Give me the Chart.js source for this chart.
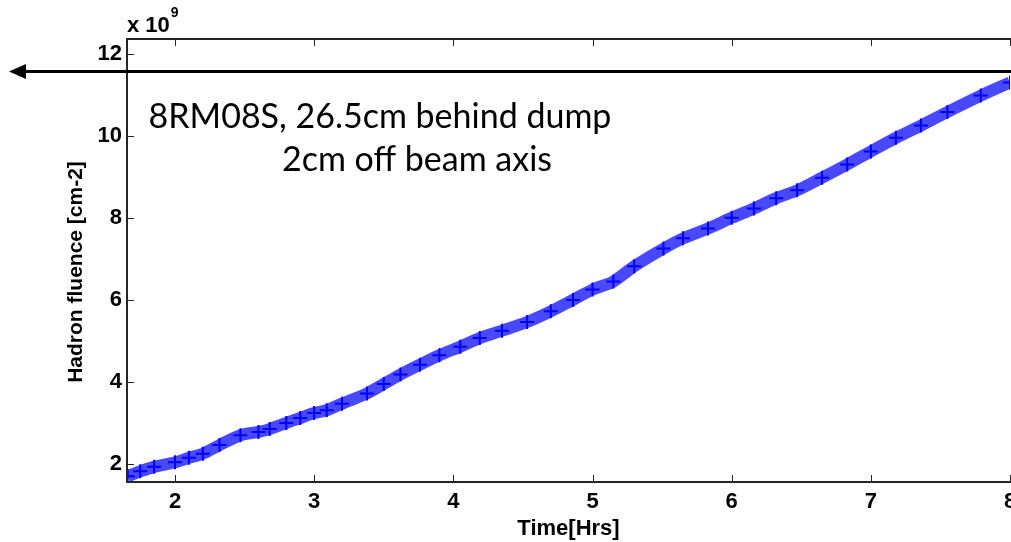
<!DOCTYPE html>
<html>
<head>
<meta charset="utf-8">
<script src="https://cdn.jsdelivr.net/npm/chart.js@4"></script>
<style>
  html, body { margin: 0; padding: 0; background: #fff; }
  #wrap { width: 1011px; height: 542px; position: relative; }
</style>
</head>
<body>
<div id="wrap"><canvas id="fluenceCanvas"></canvas></div>
<script>
// Values (fluence in units of 1e9 cm-2)
const timeHrs = [
  1.66, 1.75, 1.85, 2.00, 2.10, 2.20, 2.32, 2.47, 2.60, 2.68,
  2.80, 2.90, 3.00, 3.09, 3.20, 3.38, 3.50, 3.62, 3.76, 3.90,
  4.05, 4.19, 4.35, 4.53, 4.70, 4.86, 5.00, 5.15, 5.30, 5.51,
  5.65, 5.83, 6.00, 6.16, 6.32, 6.47, 6.65, 6.83, 7.00, 7.18,
  7.36, 7.55, 7.79, 8.00
];
const fluence = [
  1.70, 1.82, 1.93, 2.04, 2.15, 2.25, 2.46, 2.70, 2.78, 2.85,
  3.00, 3.12, 3.24, 3.31, 3.47, 3.72, 3.95, 4.18, 4.42, 4.65,
  4.86, 5.07, 5.25, 5.46, 5.72, 6.00, 6.25, 6.45, 6.82, 7.25,
  7.50, 7.74, 8.00, 8.23, 8.48, 8.67, 8.98, 9.30, 9.62, 9.95,
  10.25, 10.58, 10.98, 11.30
];
const xTicks = [2, 3, 4, 5, 6, 7, 8];
const yTicks = [2, 4, 6, 8, 10, 12];
const yExponent = '9';
const noteLines = ['8RM08S, 26.5cm behind dump', '2cm off beam axis'];

const axisFont = { family: "'Liberation Sans', Arial, sans-serif", size: 22, weight: 'bold' };

// box, inside tick marks, arrow and text note (MATLAB look)
const decorPlugin = {
  id: 'decor',
  afterDraw(chart) {
    const ctx = chart.ctx;
    const a = chart.chartArea;
    const xs = chart.scales.x, ys = chart.scales.y;
    ctx.save();

    // box
    ctx.strokeStyle = '#262626';
    ctx.lineWidth = 2;
    ctx.beginPath();
    ctx.moveTo(a.right + 5, a.top);
    ctx.lineTo(a.left, a.top);
    ctx.lineTo(a.left, a.bottom);
    ctx.lineTo(a.right + 5, a.bottom);
    ctx.stroke();

    // inside ticks
    ctx.lineWidth = 1;
    ctx.beginPath();
    xTicks.forEach(v => {
      const px = Math.round(xs.getPixelForValue(v)) + 0.5;
      ctx.moveTo(px, a.bottom); ctx.lineTo(px, a.bottom - 7);
      ctx.moveTo(px, a.top); ctx.lineTo(px, a.top + 7);
    });
    yTicks.forEach(v => {
      const py = Math.round(ys.getPixelForValue(v)) + 0.5;
      ctx.moveTo(a.left, py); ctx.lineTo(a.left + 7, py);
    });
    ctx.stroke();

    // exponent label
    ctx.fillStyle = '#000';
    ctx.font = 'bold 22px "Liberation Sans", Arial, sans-serif';
    ctx.textAlign = 'left';
    ctx.textBaseline = 'alphabetic';
    ctx.fillText('x 10', a.left, 32);
    const w = ctx.measureText('x 10').width;
    ctx.font = 'bold 14px "Liberation Sans", Arial, sans-serif';
    ctx.fillText(yExponent, a.left + w + 1, 17);

    // y title
    ctx.save();
    ctx.translate(82, 272);
    ctx.rotate(-Math.PI / 2);
    ctx.textAlign = 'center';
    ctx.font = 'bold 21px "Liberation Sans", Arial, sans-serif';
    ctx.fillText('Hadron fluence [cm-2]', 0, 0);
    ctx.restore();

    // arrow
    ctx.strokeStyle = '#000';
    ctx.lineWidth = 3;
    ctx.beginPath();
    ctx.moveTo(20, 71.5);
    ctx.lineTo(chart.width, 71.5);
    ctx.stroke();
    ctx.beginPath();
    ctx.moveTo(9, 71.5);
    ctx.lineTo(26, 64);
    ctx.lineTo(26, 79);
    ctx.closePath();
    ctx.fill();

    // note text
    ctx.font = '34px Lato, "Open Sans", sans-serif';
    ctx.textAlign = 'center';
    ctx.fillText(noteLines[0], 380, 128);
    ctx.fillText(noteLines[1], 417, 171);

    ctx.restore();
  }
};

const ctx = document.getElementById('fluenceCanvas').getContext('2d');
const fluenceChart = new Chart(ctx, {
  type: 'line',
  data: {
    datasets: [{
      data: timeHrs.map((t, i) => ({ x: t, y: fluence[i] })),
      borderColor: 'rgba(40, 40, 255, 0.85)',
      borderWidth: 12,
      tension: 0.3,
      pointStyle: 'cross',
      pointRadius: 7,
      pointBorderWidth: 2,
      pointBorderColor: '#0000ff',
      pointBackgroundColor: '#0000ff',
      fill: false
    }]
  },
  options: {
    responsive: true,
    maintainAspectRatio: false,
    animation: false,
    layout: { autoPadding: false, padding: { top: 39, right: 1, left: 0, bottom: 0 } },
    plugins: {
      legend: { display: false },
      tooltip: { enabled: false }
    },
    scales: {
      x: {
        type: 'linear',
        min: 1.655,
        max: 8,
        grid: { display: false, drawTicks: false },
        border: { display: false },
        ticks: {
          stepSize: 1,
          includeBounds: false,
          autoSkip: false,
          maxRotation: 0,
          padding: 7,
          color: '#000',
          font: axisFont
        },
        title: {
          display: true,
          text: 'Time[Hrs]',
          color: '#000',
          font: axisFont,
          padding: { top: 0, bottom: 0 }
        },
        afterFit(scale) {
          scale.height = 60;
          scale.paddingLeft = 0;
          scale.paddingRight = 0;
        }
      },
      y: {
        min: 1.56,
        max: 12.36,
        grid: { display: false, drawTicks: false },
        border: { display: false },
        ticks: {
          stepSize: 2,
          includeBounds: false,
          padding: 5,
          color: '#000',
          font: axisFont
        },
        afterFit(scale) {
          scale.width = 127;
          scale.paddingTop = 0;
          scale.paddingBottom = 0;
        }
      }
    }
  },
  plugins: [decorPlugin]
});
</script>
</body>
</html>
